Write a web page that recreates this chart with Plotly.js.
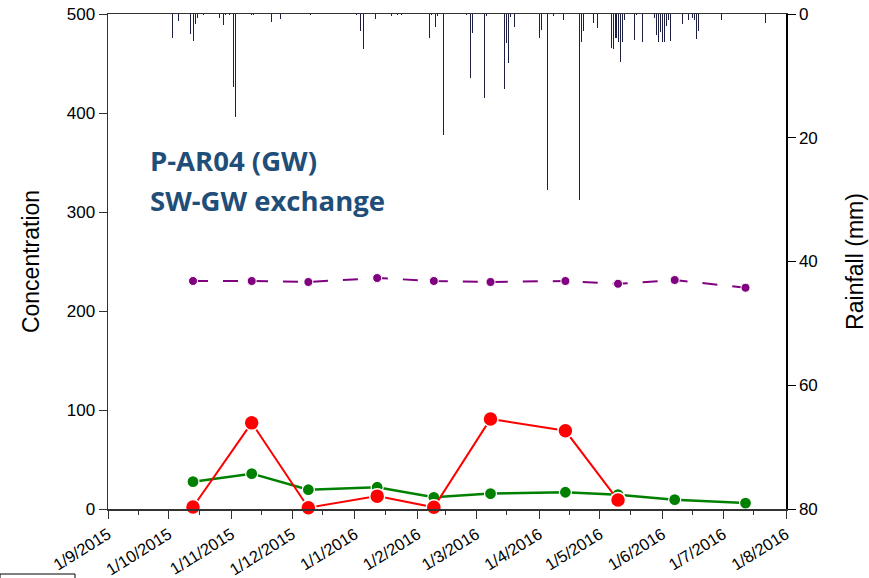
<!DOCTYPE html>
<html>
<head>
<meta charset="utf-8">
<script src="https://cdn.plot.ly/plotly-3.0.1.min.js"></script>
<style>html,body{margin:0;padding:0;background:#fff;}#chart{width:869px;height:578px;}</style>
</head>
<body>
<div id="chart"></div>
<script>
// Sampling dates (groundwater samples)
const sampleDates = ["2015-10-13","2015-11-11","2015-12-09","2016-01-12","2016-02-09","2016-03-08","2016-04-14","2016-05-10","2016-06-07","2016-07-12"];
// Concentration series
const purpleValues = [230.3,230.3,229.3,233.3,230.3,229.3,230.3,227.5,231.3,223.5];
const greenValues  = [27.6,35.7,19.5,22.0,11.8,15.6,16.9,14.5,9.4,6.0];
const redDates  = sampleDates.slice(0,8);
const redValues = [2,87,1.3,13,1.7,91,79,9];

// Daily rainfall (mm)
const rainDates = ["2015-10-03","2015-10-06","2015-10-12","2015-10-13","2015-10-14","2015-10-15","2015-10-18","2015-10-26","2015-10-28","2015-10-29","2015-10-31",
 "2015-11-02","2015-11-03","2015-11-11","2015-11-12","2015-11-21","2015-11-25","2015-12-10",
 "2016-01-02","2016-01-04","2016-01-05","2016-01-11","2016-01-19","2016-01-22","2016-01-24",
 "2016-02-07","2016-02-08","2016-02-10","2016-02-11","2016-02-14","2016-02-25","2016-02-27","2016-02-28",
 "2016-03-05","2016-03-06","2016-03-15","2016-03-16","2016-03-17","2016-03-18","2016-03-20",
 "2016-04-01","2016-04-02","2016-04-05","2016-04-08","2016-04-13","2016-04-21","2016-04-22","2016-04-23","2016-04-28","2016-04-30",
 "2016-05-07","2016-05-08","2016-05-09","2016-05-10","2016-05-11","2016-05-12","2016-05-13","2016-05-18","2016-05-19","2016-05-22",
 "2016-05-28","2016-05-29","2016-05-30","2016-05-31","2016-06-01","2016-06-02","2016-06-03","2016-06-04","2016-06-05",
 "2016-06-11","2016-06-14","2016-06-16","2016-06-17","2016-06-18","2016-06-19","2016-06-30","2016-07-22"];
const rainValues = [3.8,1.2,3.2,4.4,1.6,0.7,0.2,0.7,1.8,0.2,0.2,
 11.8,16.6,0.2,0.2,1.3,0.8,0.1,
 0.2,2.7,5.6,0.8,0.3,0.2,0.2,
 3.8,0.2,2.1,0.3,19.6,0.2,10.4,3.1,
 13.6,0.4,12.2,4.7,7.9,0.5,2.1,
 3.9,2.6,28.4,0.4,1.0,30.0,4.5,2.8,1.4,2.3,
 5.5,5.6,3.8,4.5,7.7,4.5,0.9,4.2,0.2,4.5,
 0.6,3.4,4.5,2.9,4.6,4.6,1.9,1.0,4.3,
 1.6,0.9,0.6,1.0,4.1,2.8,1.0,1.5];

// Axis tick labels
const xTickDates = ["2015-09-01","2015-10-01","2015-11-01","2015-12-01","2016-01-01","2016-02-01","2016-03-01","2016-04-01","2016-05-01","2016-06-01","2016-07-01","2016-08-01"];
const xTickLabels = ["1/9/2015","1/10/2015","1/11/2015","1/12/2015","1/1/2016","1/2/2016","1/3/2016","1/4/2016","1/5/2016","1/6/2016","1/7/2016","1/8/2016"];
const xMinorDates = ["2015-09-16","2015-10-16","2015-11-16","2015-12-16","2016-01-16","2016-02-15","2016-03-16","2016-04-16","2016-05-16","2016-06-16","2016-07-16"];
const yTicks = [0,100,200,300,400,500];
const y2Ticks = [0,20,40,60,80];

const font = "Liberation Sans, Arial, sans-serif";

const traces = [
  {type:"bar", x:rainDates, y:rainValues, yaxis:"y2", width:0.5*86400000,
   marker:{color:"#1c1f40", line:{width:0}}, hoverinfo:"x+y"},
  {type:"scatter", mode:"lines+markers", x:sampleDates, y:purpleValues,
   line:{color:"#800080", width:2, dash:"longdash"},
   marker:{color:"#800080", size:9, line:{color:"#fff", width:1}}, cliponaxis:false},
  {type:"scatter", mode:"lines+markers", x:sampleDates, y:greenValues,
   line:{color:"#008000", width:2.5},
   marker:{color:"#008000", size:12, line:{color:"#fff", width:1.2}}, cliponaxis:false},
  {type:"scatter", mode:"lines+markers", x:redDates, y:redValues,
   line:{color:"#ff0000", width:2},
   marker:{color:"#ff0000", size:15, line:{color:"#fff", width:1.5}}, cliponaxis:false}
];

const layout = {
  width:869, height:578,
  margin:{l:108, r:83, t:14, b:69},
  paper_bgcolor:"#fff", plot_bgcolor:"#fff",
  showlegend:false,
  bargap:0,
  font:{family:font, size:17, color:"#000"},
  xaxis:{type:"date", range:["2015-09-01","2016-08-01"],
    tickmode:"array", tickvals:xTickDates, ticktext:xTickLabels, tickangle:-32,
    ticks:"outside", ticklen:8, tickcolor:"#333", showline:true, linecolor:"#333", linewidth:1.5,
    mirror:true, showgrid:false, zeroline:false,
    tickfont:{family:font, size:16.5, color:"#000"},
    minor:{tickmode:"array", tickvals:xMinorDates, ticks:"outside", ticklen:4, tickcolor:"#333"}},
  yaxis:{range:[0,500], tickvals:yTicks, ticks:"outside", ticklen:8, tickcolor:"#333",
    showline:true, linecolor:"#333", linewidth:1.5, showgrid:false, zeroline:false,
    tickfont:{family:font, size:17, color:"#000"},
    title:{text:"Concentration", font:{family:font, size:23, color:"#000"}, standoff:20}},
  yaxis2:{overlaying:"y", side:"right", range:[80,0], tickvals:y2Ticks, ticks:"outside", ticklen:8,
    tickcolor:"#000", showline:true, linecolor:"#000", linewidth:1.5, showgrid:false, zeroline:false,
    tickfont:{family:font, size:17, color:"#000"},
    title:{text:"Rainfall (mm)", font:{family:font, size:23, color:"#000"}, standoff:30}},
  annotations:[
    {xref:"paper", yref:"paper", x:(148-108)/678, y:(509-160)/495, xanchor:"left", yanchor:"middle", showarrow:false,
     text:"<b>P-AR04 (GW)</b>", font:{family:"Open Sans", size:27.5, color:"#1F4E79"}},
    {xref:"paper", yref:"paper", x:(148-108)/678, y:(509-200)/495, xanchor:"left", yanchor:"middle", showarrow:false,
     text:"<b>SW-GW exchange</b>", font:{family:"Open Sans", size:27.5, color:"#1F4E79"}}
  ],
  shapes:[
    {type:"rect", xref:"paper", yref:"paper", x0:(0-108)/678, x1:(75-108)/678, y0:(509-574)/495, y1:(509-590)/495,
     line:{color:"#000", width:1}, fillcolor:"rgba(0,0,0,0)"}
  ]
};

Plotly.newPlot("chart", traces, layout, {displayModeBar:false, staticPlot:true});
</script>
</body>
</html>
